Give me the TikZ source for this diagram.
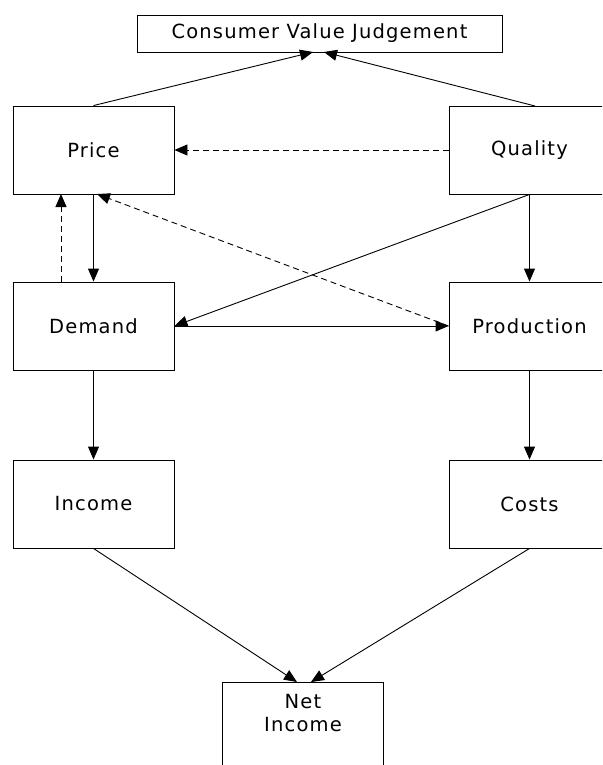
\documentclass[tikz,border=0pt]{standalone}
\usepackage{fontspec}
\newfontfamily\boxfont[LetterSpace=6]{DejaVu Sans}
\usetikzlibrary{arrows.meta}
\begin{document}
\begin{tikzpicture}[x=1pt,y=-1pt,
  every node/.style={font=\boxfont\fontsize{19.5}{23}\selectfont},
  blockbox/.style={draw,line width=0.9pt,minimum width=161pt,minimum height=88pt,inner sep=0pt},
  conn/.style={line width=0.9pt,-{Triangle[length=13pt,width=11pt]}},
  dashconn/.style={conn,dash pattern=on 6pt off 4pt}]
\useasboundingbox (0,0) rectangle (602,765);
\clip (0,0) rectangle (602,765);
\fill[white] (0,0) rectangle (602,765);

% boxes
\node[draw,line width=0.9pt,minimum width=365pt,minimum height=37pt,inner sep=0pt] (cvj) at (319.5,33.5) {Consumer Value Judgement};
\node[blockbox] (price) at (93.5,150) {Price};
\node[blockbox] (quality) at (529.5,150) {Quality};
\node[blockbox] (demand) at (93.5,326) {Demand};
\node[blockbox] (production) at (529.5,326) {Production};
\node[blockbox] (income) at (93.5,504) {Income};
\node[blockbox] (costs) at (529.5,504) {Costs};
\node[blockbox] (net) at (303,726) {};
\node[align=center,anchor=north,inner sep=0pt] (netlabel) at (303,694) {Net\\Income};

% attachment points on box edges
\coordinate (cvjL) at (313,52);
\coordinate (cvjR) at (324,52);
\coordinate (qtop) at (535,106);
\coordinate (pbotL) at (61,194);
\coordinate (dtopL) at (61,282);
\coordinate (pbotR) at (97,194);
\coordinate (netL) at (297,682);
\coordinate (netR) at (311,682);

% connectors
\draw[conn] (price.north) -- (cvjL);
\draw[conn] (qtop) -- (cvjR);
\draw[dashconn] (quality.west) -- (price.east);
\draw[conn] (price.south) -- (demand.north);
\draw[dashconn] (dtopL) -- (pbotL);
\draw[dashconn] (production.west) -- (pbotR);
\draw[conn] (quality.south) -- (demand.east);
\draw[conn] (demand.east) -- (production.west);
\draw[conn] (quality.south) -- (production.north);
\draw[conn] (demand.south) -- (income.north);
\draw[conn] (production.south) -- (costs.north);
\draw[conn] (income.south) -- (netL);
\draw[conn] (costs.south) -- (netR);
\end{tikzpicture}
\end{document}
